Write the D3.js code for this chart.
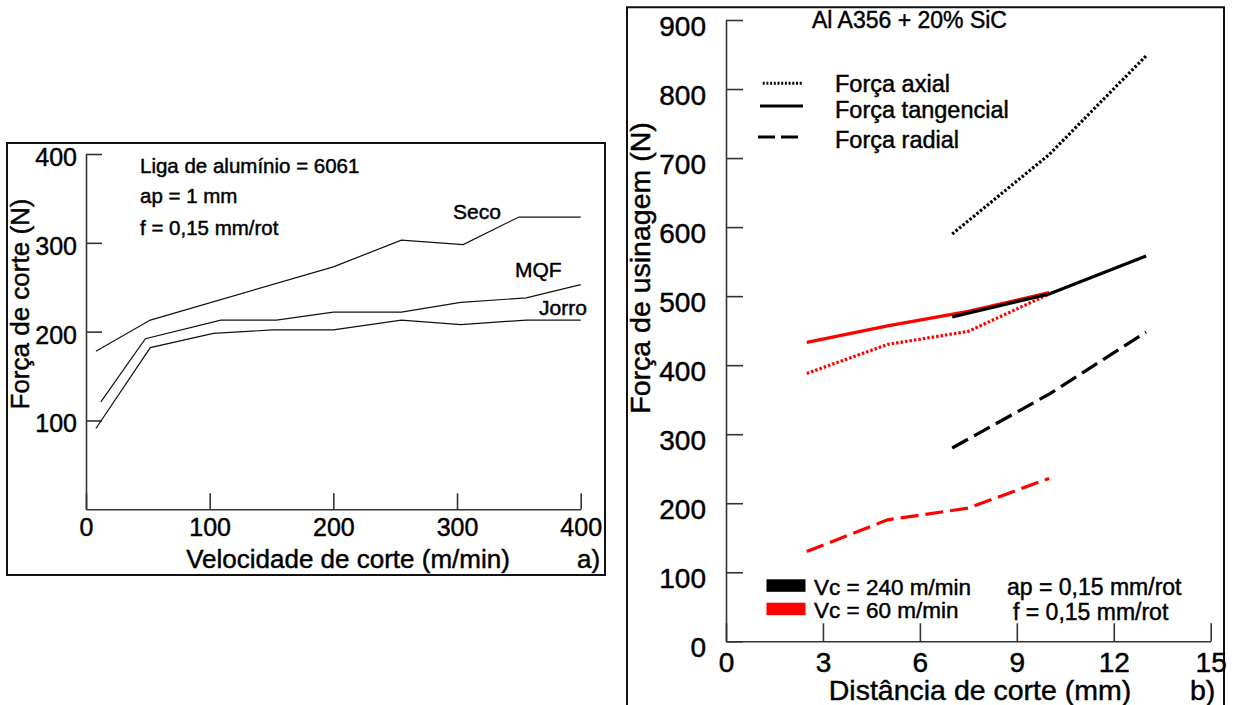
<!DOCTYPE html>
<html><head><meta charset="utf-8">
<script src="https://cdn.jsdelivr.net/npm/d3@7"></script>
<style>
body{margin:0;background:#fff}
svg{display:block}
text{font-family:"Liberation Sans",Arial,Helvetica,sans-serif;fill:#000;stroke:#000;stroke-width:0.45px}
</style>
</head><body>
<svg id="c" width="1236" height="705"></svg>
<script>
// ---------- DATA: panel a) ----------
const leftTicksX = [0, 100, 200, 300, 400];
const leftTicksY = [100, 200, 300, 400];
const leftSeries = ["Seco", "MQF", "Jorro"];
const secoX  = [8, 52, 200, 255, 305, 350, 400];
const secoY  = [178, 213, 273, 303, 298, 329, 329];
const mqfX   = [12, 48, 109, 154, 200, 255, 303, 356, 400];
const mqfY   = [121, 192, 213, 213, 222, 222, 233, 238, 253];
const jorroX = [8, 52, 103, 151, 200, 255, 303, 356, 400];
const jorroY = [91, 182, 198, 202, 202, 213, 208, 213, 213];
const leftNotes = ["Liga de alumínio = 6061", "ap = 1 mm", "f = 0,15 mm/rot"];

// ---------- DATA: panel b) ----------
const rightTicksX = [0, 3, 6, 9, 12, 15];
const rightTicksY = [0, 100, 200, 300, 400, 500, 600, 700, 800, 900];
const distVc240 = [7, 10, 13];
const distVc60  = [2.5, 5, 7.5, 10];
const axial240  = [590, 705, 848];
const tang240   = [470, 503, 558];
const radial240 = [280, 358, 448];
const axial60   = [388, 430, 449, 503];
const tang60    = [433, 457, 478, 505];
const radial60  = [130, 176, 193, 236];
const forceNames = ["Força axial", "Força tangencial", "Força radial"];
const speedNames = ["Vc = 240 m/min", "Vc = 60 m/min"];
const rightNotes = ["ap = 0,15 mm/rot", "f = 0,15 mm/rot"];

const svg = d3.select("#c");
const FONT = '"Liberation Sans",Arial,Helvetica,sans-serif';

// ================= Panel a) =================
svg.append("rect").attr("x", 7).attr("y", 143).attr("width", 598).attr("height", 432)
  .attr("fill", "none").attr("stroke", "#111").attr("stroke-width", 2);

const xL = d3.scaleLinear().domain([0, 400]).range([86, 580.7]);
const yL = d3.scaleLinear().domain([0, 400]).range([509.3, 154]);

const axLx = svg.append("g").attr("transform", `translate(0,${yL(0)})`)
  .call(d3.axisBottom(xL).tickValues(leftTicksX).tickSizeInner(-16).tickSizeOuter(0).tickFormat(d3.format("d")));
axLx.selectAll("text").attr("y", 27).attr("dy", 0).style("font-size", "25px").style("font-family", FONT);
const axLy = svg.append("g").attr("transform", `translate(${xL(0)},0)`)
  .call(d3.axisLeft(yL).tickValues(leftTicksY).tickSizeInner(-16).tickSizeOuter(0).tickFormat(d3.format("d")));
axLy.selectAll("text").attr("x", -9).attr("dy", "11.5px").style("font-size", "25px").style("font-family", FONT);
[axLx, axLy].forEach(g => {
  g.select(".domain").attr("stroke", "#333").attr("stroke-width", 1.6);
  g.selectAll(".tick line").attr("stroke", "#333").attr("stroke-width", 1.6);
});

const leftData = [[secoX, secoY], [mqfX, mqfY], [jorroX, jorroY]];
const lineL = d3.line().x(d => xL(d[0])).y(d => yL(d[1]));
leftData.forEach(([xs, ys]) => {
  svg.append("path").datum(xs.map((v, i) => [v, ys[i]]))
    .attr("d", lineL).attr("fill", "none").attr("stroke", "#111").attr("stroke-width", 1.2);
});

const leftLabelPos = [[453, 219], [515, 277], [539, 315]];
leftSeries.forEach((s, i) => {
  svg.append("text").attr("x", leftLabelPos[i][0]).attr("y", leftLabelPos[i][1])
    .style("font-size", "21px").text(s);
});
leftNotes.forEach((t, i) => {
  svg.append("text").attr("x", 140).attr("y", [173, 203, 235][i]).style("font-size", "20.5px").text(t);
});

svg.append("text").attr("x", 348).attr("y", 568).attr("text-anchor", "middle")
  .style("font-size", "26px").text("Velocidade de corte (m/min)");
svg.append("text").attr("x", 577).attr("y", 568).style("font-size", "26px").text("a)");
svg.append("text").attr("transform", "translate(29,304) rotate(-90)").attr("text-anchor", "middle")
  .style("font-size", "26px").text("Força de corte (N)");

// ================= Panel b) =================
svg.append("path").attr("d", "M627,712 V7.3 H1224 V712")
  .attr("fill", "none").attr("stroke", "#111").attr("stroke-width", 2);

const xR = d3.scaleLinear().domain([0, 15]).range([726, 1210.7]);
const yR = d3.scaleLinear().domain([0, 900]).range([641.3, 20]);

const axRx = svg.append("g").attr("transform", `translate(0,${yR(0)})`)
  .call(d3.axisBottom(xR).tickValues(rightTicksX).tickSizeInner(-18).tickSizeOuter(0).tickFormat(d3.format("d")));
axRx.selectAll("text").attr("y", 31).attr("dy", 0).style("font-size", "28px").style("font-family", FONT);
const axRy = svg.append("g").attr("transform", `translate(${xR(0)},0)`)
  .call(d3.axisLeft(yR).tickValues(rightTicksY).tickSizeInner(-17).tickSizeOuter(0).tickFormat(d3.format("d")));
axRy.selectAll("text").attr("x", -20).attr("dy", "15px").style("font-size", "28px").style("font-family", FONT);
[axRx, axRy].forEach(g => {
  g.select(".domain").attr("stroke", "#333").attr("stroke-width", 1.6);
  g.selectAll(".tick line").attr("stroke", "#333").attr("stroke-width", 1.6);
});

const DOT = "2.5,2", DASH = "18,7";
const rightSeries = [
  {x: distVc240, y: axial240,  c: "#000", dash: DOT},
  {x: distVc240, y: radial240, c: "#000", dash: DASH},
  {x: distVc60,  y: axial60,   c: "#ff0000", dash: DOT},
  {x: distVc60,  y: radial60,  c: "#ff0000", dash: DASH},
  {x: distVc60,  y: tang60,    c: "#ff0000", dash: null},
  {x: distVc240, y: tang240,   c: "#000", dash: null}
];
const lineR = d3.line().x(d => xR(d[0])).y(d => yR(d[1]));
rightSeries.forEach(s => {
  svg.append("path").datum(s.x.map((v, i) => [v, s.y[i]]))
    .attr("d", lineR).attr("fill", "none").attr("stroke", s.c).attr("stroke-width", 3.2)
    .attr("stroke-dasharray", s.dash);
});

// Legend: line styles
const legDash = ["2,1.7", null, "17,6"];
const legY = [83.3, 106, 137];
forceNames.forEach((n, i) => {
  svg.append("line").attr("x1", i === 1 ? 760 : (i === 2 ? 758 : 762.7)).attr("x2", 803)
    .attr("y1", legY[i]).attr("y2", legY[i]).attr("stroke", "#000").attr("stroke-width", 3)
    .attr("stroke-dasharray", legDash[i]);
  svg.append("text").attr("x", 835).attr("y", [92, 118, 148][i]).style("font-size", "23.5px").text(n);
});

// Legend: speed colours
const speedColors = ["#000", "#ff0000"];
speedNames.forEach((n, i) => {
  svg.append("rect").attr("x", 766.5).attr("y", [579.3, 602.7][i]).attr("width", 39).attr("height", 12.5)
    .attr("fill", speedColors[i]);
  svg.append("text").attr("x", 814).attr("y", [595, 618][i]).style("font-size", "22.5px").text(n);
});
rightNotes.forEach((t, i) => {
  svg.append("text").attr("x", [1007, 1013][i]).attr("y", [595, 620][i]).style("font-size", "23px").text(t);
});

svg.append("text").attr("x", 812).attr("y", 28).style("font-size", "23px").text("Al A356 + 20% SiC");
svg.append("text").attr("x", 980).attr("y", 700).attr("text-anchor", "middle")
  .style("font-size", "28.5px").text("Distância de corte (mm)");
svg.append("text").attr("x", 1190).attr("y", 700).style("font-size", "28.5px").text("b)");
svg.append("text").attr("transform", "translate(650,268) rotate(-90)").attr("text-anchor", "middle")
  .style("font-size", "28.5px").text("Força de usinagem (N)");
</script>
</body></html>
